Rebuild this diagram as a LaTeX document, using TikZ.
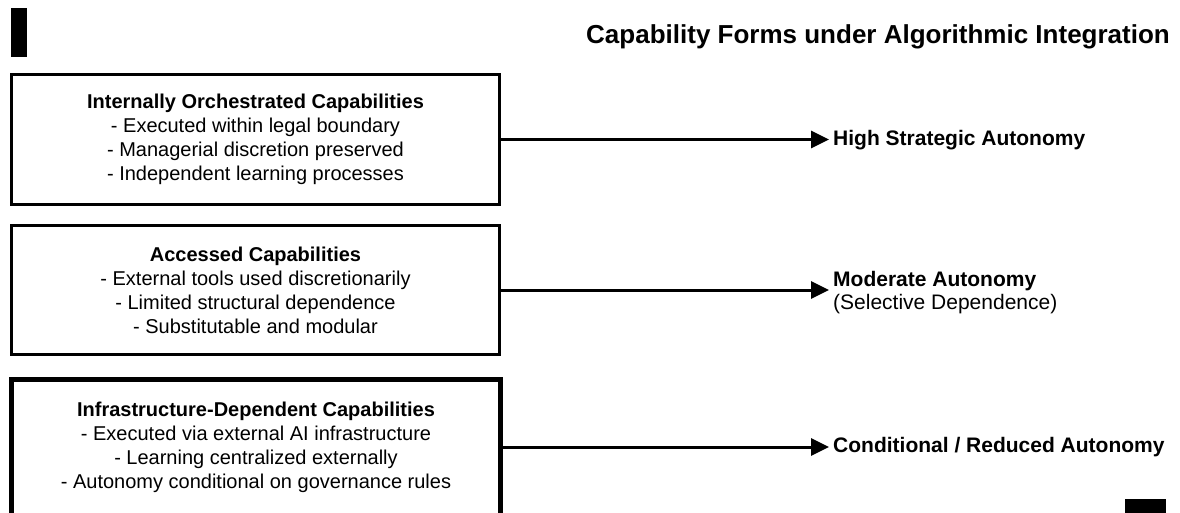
\documentclass[tikz,border=0pt]{standalone}
\usepackage{fontspec}
\setmainfont{Liberation Sans}
\usetikzlibrary{arrows.meta,positioning}

\begin{document}
\begin{tikzpicture}[x=1pt,y=-1pt,>={Triangle[length=18pt,width=17pt]},shorten >=4pt,
  capbox/.style={draw,line width=3pt,minimum width=488pt,minimum height=130pt,
    align=center,inner sep=0pt,font=\fontsize{20}{24}\selectfont},
  outcome/.style={anchor=west,align=left,inner sep=0pt,font=\fontsize{21}{23}\selectfont},
  link/.style={->,line width=3pt}]

\useasboundingbox (0,0) rectangle (1180,513);

% title and corner marks
\fill (11,8) rectangle (27,57);
\fill (1125,499) rectangle (1166,530);
\node[anchor=east,inner sep=0pt,font=\fontsize{26}{30}\selectfont\bfseries] (title) at (1170,37)
{Capability Forms under Algorithmic Integration};

% define the capability boxes
\node[capbox] (intern) at (255.5,139.5)
{\textbf{Internally Orchestrated Capabilities}\\- Executed within legal boundary\\- Managerial discretion preserved\\- Independent learning processes};
\node[capbox,minimum height=129pt] (access) at (255.5,290)
{\textbf{Accessed Capabilities}\\- External tools used discretionarily\\- Limited structural dependence\\- Substitutable and modular};
\node[capbox,line width=5pt,minimum width=489pt,minimum height=136pt] (infra) at (256,447)
{\textbf{Infrastructure-Dependent Capabilities}\\- Executed via external AI infrastructure\\- Learning centralized externally\\- Autonomy conditional on governance rules};

% define the outcomes
\node[outcome] (high) at (833,140) {\textbf{High Strategic Autonomy}};
\node[outcome] (moderate) at (833,293) {\textbf{Moderate Autonomy}\\(Selective Dependence)};
\node[outcome] (reduced) at (833,447) {\textbf{Conditional / Reduced Autonomy}};

% define the links
\draw[link] (intern.east) -- (intern.east -| high.west);
\draw[link] (access.east) -- (access.east -| moderate.west);
\draw[link] (infra.east) -- (infra.east -| reduced.west);

\end{tikzpicture}
\end{document}
